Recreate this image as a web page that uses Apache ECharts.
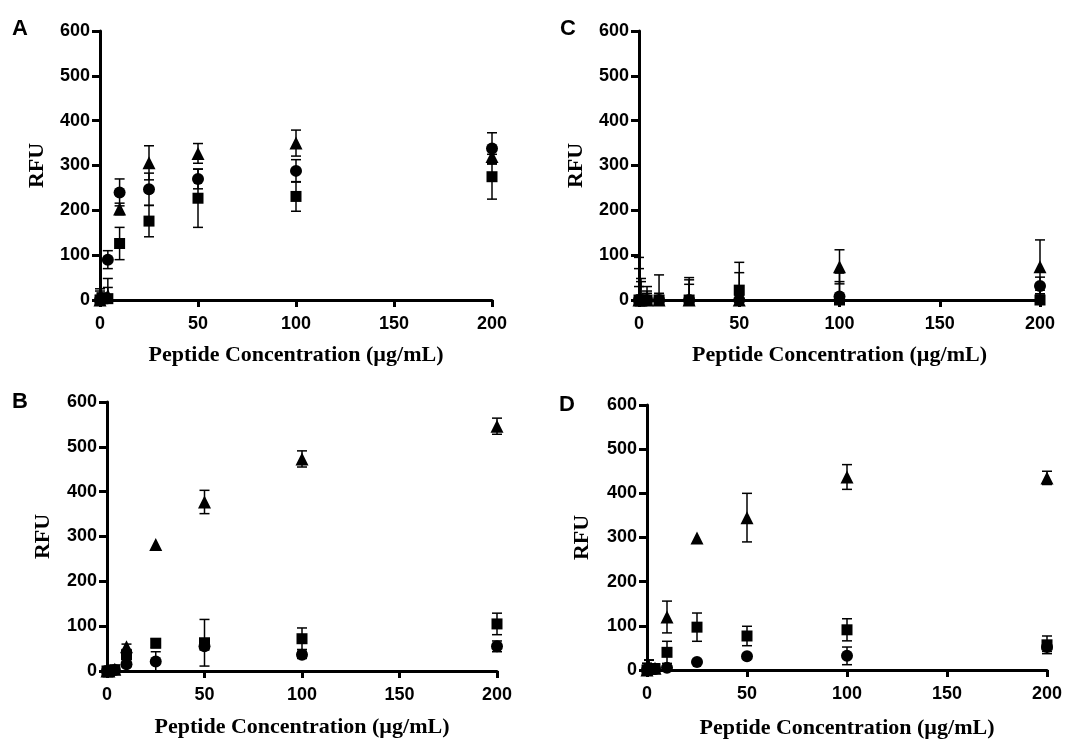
<!DOCTYPE html>
<html>
<head>
<meta charset="utf-8">
<title>Peptide RFU</title>
<script src="https://cdn.jsdelivr.net/npm/echarts@6/dist/echarts.min.js"></script>
<style>
    html, body { margin: 0; padding: 0; background: #fff; }
    #chart { width: 1068px; height: 740px; }
</style>
</head>
<body>
<div id="chart"></div>
<script>
// concentrations (ug/mL)
var conc = [0, 1, 4, 10, 25, 50, 100, 200];
var yTicks = [0, 100, 200, 300, 400, 500, 600];
var panelLetters = ['A', 'C', 'B', 'D'];

// panel A
var aCircle = [0, 3, 90, 240, 247, 270, 288, 338];
var aCircleSd = [25, 8, 20, 30, 36, 22, 25, 35];
var aSquare = [0, 5, 3, 126, 176, 227, 231, 275];
var aSquareSd = [20, 10, 25, 36, 35, 65, 33, 50];
var aTriangle = [0, 5, 10, 203, 306, 327, 350, 320];
var aTriangleSd = [10, 8, 38, 13, 38, 22, 29, 15];

// panel C
var cCircle = [0, 0, 0, 0, 0, 0, 8, 31];
var cCircleSd = [30, 48, 20, 10, 35, 61, 52, 20];
var cSquare = [0, 0, 0, 0, 0, 22, 0, 0];
var cSquareSd = [70, 41, 30, 56, 50, 62, 41, 22];
var cTriangle = [0, 0, 0, 0, 0, 0, 74, 74];
var cTriangleSd = [95, 10, 15, 15, 45, 10, 38, 60];

// panel B
var bCircle = [0, 0, 2, 15, 21, 55, 36, 55];
var bCircleSd = [3, 3, 3, 5, 22, 8, 8, 12];
var bSquare = [0, 0, 3, 36, 62, 63, 72, 105];
var bSquareSd = [3, 3, 3, 8, 10, 52, 24, 24];
var bTriangle = [0, 0, 4, 54, 282, 377, 473, 546];
var bTriangleSd = [3, 3, 3, 6, 0, 26, 18, 18];

// panel D
var dCircle = [0, 0, 2, 5, 18, 31, 32, 52];
var dCircleSd = [15, 10, 5, 3, 0, 0, 20, 10];
var dSquare = [0, 2, 3, 40, 97, 77, 91, 57];
var dSquareSd = [15, 20, 10, 25, 32, 22, 25, 20];
var dTriangle = [0, 5, 4, 120, 299, 345, 437, 435];
var dTriangleSd = [10, 18, 10, 36, 0, 55, 28, 15];

var PeptideChart = function () {
    var sansFont = '"Liberation Sans", Arial, sans-serif';
    var serifFont = '"Liberation Serif", "Times New Roman", serif';

    // grid boxes in the order A, C, B, D
    var grids = [
        { left: 100, top: 31, width: 392, height: 269 },
        { left: 639, top: 31, width: 401, height: 269 },
        { left: 107, top: 402, width: 390, height: 269 },
        { left: 647, top: 405, width: 400, height: 269 }
    ];
    var yNameGap = [52, 52, 53, 54];
    var xNameGap = [44, 44, 45, 47];
    var letterPos = [[12, 18], [560, 18], [12, 391], [559, 394]];

    var panels = [
        [[aCircle, aCircleSd], [aSquare, aSquareSd], [aTriangle, aTriangleSd]],
        [[cCircle, cCircleSd], [cSquare, cSquareSd], [cTriangle, cTriangleSd]],
        [[bCircle, bCircleSd], [bSquare, bSquareSd], [bTriangle, bTriangleSd]],
        [[dCircle, dCircleSd], [dSquare, dSquareSd], [dTriangle, dTriangleSd]]
    ];
    var symbols = ['circle', 'rect', 'triangle'];
    var symbolSizes = [12, 11, 13];

    // vertical bar with caps; the part under the y-axis floor is cut off
    var errorBar = function (params, api) {
        var x = api.value(0);
        var lo = api.value(1);
        var hi = api.value(2);
        if (hi - lo <= 0) {
            return null;
        }
        var floor = yTicks[0];
        var top = api.coord([x, hi]);
        var bot = api.coord([x, Math.max(lo, floor)]);
        var half = 5;
        var st = { stroke: '#000', lineWidth: 1.5 };
        var kids = [
            { type: 'line', shape: { x1: top[0], y1: top[1], x2: bot[0], y2: bot[1] }, style: st },
            { type: 'line', shape: { x1: top[0] - half, y1: top[1], x2: top[0] + half, y2: top[1] }, style: st }
        ];
        if (lo >= floor) {
            kids.push({ type: 'line', shape: { x1: bot[0] - half, y1: bot[1], x2: bot[0] + half, y2: bot[1] }, style: st });
        }
        return { type: 'group', children: kids };
    };

    var _buildOption = function () {
        var xAxis = [], yAxis = [], series = [], graphic = [];
        for (var i = 0; i < 4; i++) {
            xAxis.push({
                gridIndex: i,
                type: 'value',
                min: 0,
                max: 200,
                interval: 50,
                name: 'Peptide Concentration (\u00b5g/mL)',
                nameLocation: 'middle',
                nameGap: xNameGap[i],
                nameTextStyle: { fontFamily: serifFont, fontWeight: 'bold', fontSize: 22, color: '#000' },
                splitLine: { show: false },
                axisLine: { lineStyle: { color: '#000', width: 3 } },
                axisTick: { length: 7, lineStyle: { color: '#000', width: 3 } },
                axisLabel: { fontFamily: sansFont, fontWeight: 'bold', fontSize: 18, color: '#000', margin: 15 }
            });
            yAxis.push({
                gridIndex: i,
                type: 'value',
                min: yTicks[0],
                max: yTicks[yTicks.length - 1],
                interval: yTicks[1] - yTicks[0],
                name: 'RFU',
                nameLocation: 'middle',
                nameGap: yNameGap[i],
                nameTextStyle: { fontFamily: serifFont, fontWeight: 'bold', fontSize: 22, color: '#000' },
                splitLine: { show: false },
                axisLine: { lineStyle: { color: '#000', width: 3 } },
                axisTick: { length: 8, lineStyle: { color: '#000', width: 3 } },
                axisLabel: { fontFamily: sansFont, fontWeight: 'bold', fontSize: 18, color: '#000', margin: 10 }
            });

            for (var s = 0; s < 3; s++) {
                var means = panels[i][s][0];
                var sds = panels[i][s][1];
                var pts = [], bars = [];
                for (var k = 0; k < conc.length; k++) {
                    pts.push([conc[k], means[k]]);
                    bars.push([conc[k], means[k] - sds[k], means[k] + sds[k]]);
                }
                series.push({
                    type: 'custom',
                    xAxisIndex: i,
                    yAxisIndex: i,
                    renderItem: errorBar,
                    encode: { x: 0, y: [1, 2] },
                    silent: true,
                    z: 2,
                    data: bars
                });
                series.push({
                    type: 'scatter',
                    xAxisIndex: i,
                    yAxisIndex: i,
                    symbol: symbols[s],
                    symbolSize: symbolSizes[s],
                    itemStyle: { color: '#000', opacity: 1 },
                    clip: false,
                    z: 3,
                    data: pts
                });
            }

            graphic.push({
                type: 'text',
                left: letterPos[i][0],
                top: letterPos[i][1],
                style: { text: panelLetters[i], font: 'bold 22px ' + sansFont, fill: '#000' }
            });
        }

        return {
            backgroundColor: '#fff',
            animation: false,
            grid: grids,
            xAxis: xAxis,
            yAxis: yAxis,
            series: series,
            graphic: graphic
        };
    };

    var _init = function () {
        var dom = document.getElementById('chart');
        var chart = echarts.init(dom, null, { renderer: 'canvas' });
        var option = _buildOption();
        if (option && typeof option === 'object') {
            chart.setOption(option);
        }
        window.addEventListener('resize', chart.resize);
    };

    return {
        init: function () {
            _init();
        }
    };
}();

document.addEventListener('DOMContentLoaded', function () {
    PeptideChart.init();
});
</script>
</body>
</html>
